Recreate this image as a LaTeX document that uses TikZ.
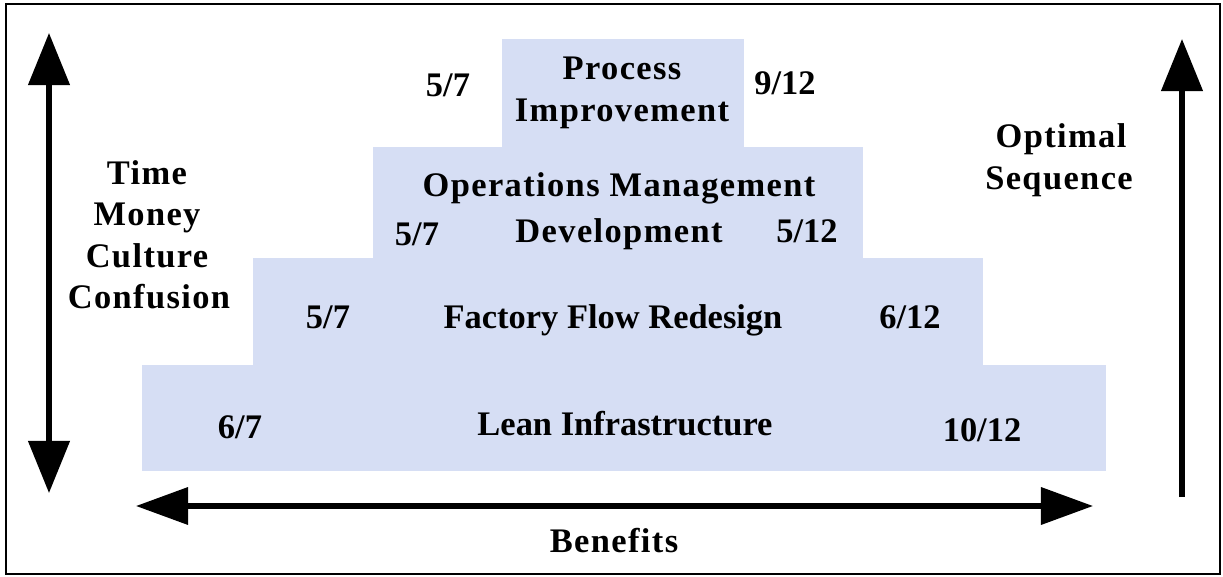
\documentclass[tikz,border=0pt]{standalone}
\usepackage{fontspec}
\setmainfont{Liberation Serif}
\newfontfamily\spacedfont[LetterSpace=4]{Liberation Serif}
\usetikzlibrary{arrows.meta}
\definecolor{stepfill}{RGB}{214,222,244}
\tikzset{
  lbl/.style={font=\fontsize{24.5}{29}\selectfont\bfseries, anchor=base, inner sep=0pt},
  slbl/.style={lbl, font=\fontsize{24.5}{29}\selectfont\spacedfont\bfseries},
  bigarrow/.style={line width=3.6pt, -{Triangle[length=37pt,width=29pt]}},
  bigarrows/.style={line width=3.6pt, {Triangle[length=37pt,width=29pt]}-{Triangle[length=37pt,width=29pt]}},
  benarrows/.style={line width=3.6pt, {Triangle[length=37pt,width=26pt]}-{Triangle[length=37pt,width=26pt]}},
}
\begin{document}
\begin{tikzpicture}[x=0.025cm,y=-0.025cm]
\useasboundingbox (0,0) rectangle (1223,577);
\draw[line width=1.8pt] (6,4) rectangle (1220,574);
% steps
\fill[stepfill] (142,365) rectangle (1106,471);
\fill[stepfill] (253,258) rectangle (983,366);
\fill[stepfill] (373,147) rectangle (863,259);
\fill[stepfill] (502,39) rectangle (744,148);
% arrows
\coordinate (costtop) at (49,33);
\coordinate (costbot) at (49,493);
\coordinate (benleft) at (136,506);
\coordinate (benright) at (1093,506);
\coordinate (seqbot) at (1182,497);
\coordinate (seqtop) at (1182,39);
\draw[bigarrows] (costbot) -- (costtop);
\draw[benarrows] (benleft) -- (benright);
\draw[bigarrow] (seqbot) -- (seqtop);
% texts
\node[slbl] (time) at (147,185) {Time};
\node[slbl] (money) at (147,226) {Money};
\node[slbl] (culture) at (147,267) {Culture};
\node[slbl] (confusion) at (149,308) {Confusion};
\node[slbl] (optimal) at (1061,148) {Optimal};
\node[slbl] (sequence) at (1059,190) {Sequence};
\node[slbl] (benefits) at (614,552) {Benefits};
\node[slbl] (process) at (622,80) {Process};
\node[slbl] (improvement) at (622,122) {Improvement};
\node[lbl] (pileft) at (448,97) {5/7};
\node[lbl] (piright) at (785,95) {9/12};
\node[slbl] (operations) at (619,197) {Operations Management};
\node[slbl] (development) at (619,242) {Development};
\node[lbl] (omleft) at (417,245) {5/7};
\node[lbl] (omright) at (807,242) {5/12};
\node[lbl] (factory) at (613,328) {Factory Flow Redesign};
\node[lbl] (ffleft) at (328,328) {5/7};
\node[lbl] (ffright) at (910,328) {6/12};
\node[lbl] (lean) at (625,435) {Lean Infrastructure};
\node[lbl] (lileft) at (240,438) {6/7};
\node[lbl] (liright) at (982,441) {10/12};
\end{tikzpicture}
\end{document}
